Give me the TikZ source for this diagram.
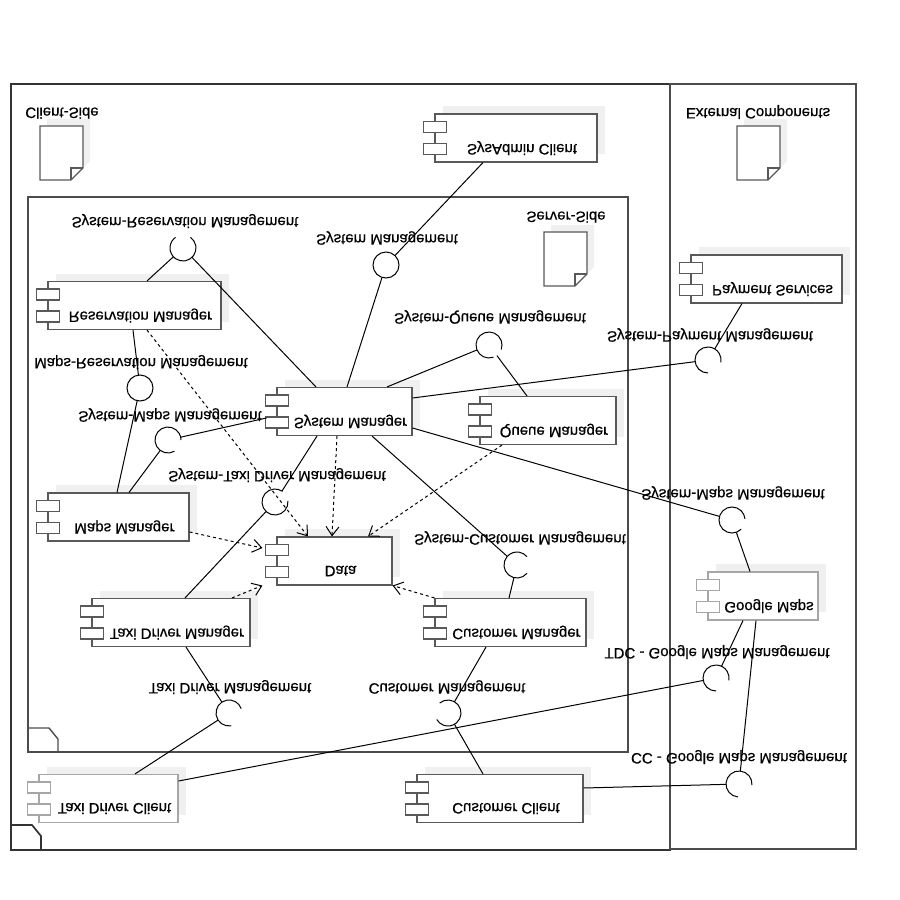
\documentclass[tikz,border=0pt]{standalone}
\usepackage{fontspec}
\setmainfont{Liberation Sans}[FakeBold=0.6]
\usetikzlibrary{calc,arrows.meta,shadows}

\tikzset{
  comp/.style={draw=black!65, fill=white, line width=1.1pt, minimum height=48pt, inner sep=0pt,
    general shadow={fill=black!6, shadow xshift=8pt, shadow yshift=8pt}},
  tab/.style={draw=black!65, fill=white, line width=1.1pt},
  lbl/.style={yscale=-1, font=\fontsize{15}{18}\selectfont, inner sep=0pt},
  iface/.style={circle, minimum size=26pt, inner sep=0pt},
  conn/.style={line width=1pt},
  dep/.style={conn, dashed, -{Straight Barb[length=9pt,width=13pt]}},
  frame/.style={draw=black!70, line width=1.4pt},
}
% component box with its two tabs and its name
\newcommand\comp[5][black!65]{%
  \node[comp, draw=#1, minimum width=#4] (#2) at (#3) {};
  \draw[tab, draw=#1] ($(#2.north west)+(-11,8)$) rectangle ++(23,11);
  \draw[tab, draw=#1] ($(#2.north west)+(-11,30)$) rectangle ++(23,11);
  \node[lbl] (#2-t) at ($(#2.center)+(6,10)$) {#5};}
% socket: node, gap centre, gap width
\newcommand\sock[3]{%
  \draw[conn] ($(#1.center)+({#2+#3/2}:13)$) arc[start angle={#2+#3/2}, end angle={#2+360-#3/2}, radius=13];}
% document icon, top left corner
\newcommand\docu[1]{%
  \draw[line width=1.1pt, draw=black!65, fill=white, general shadow={fill=black!6, shadow xshift=7pt, shadow yshift=7pt}]
    (#1) -- ++(43,0) -- ++(0,42) -- ++(-12,12) -- ++(-31,0) -- cycle;
  \draw[line width=1.1pt, draw=black!65] ($(#1)+(31,54)$) -- ++(0,-12) -- ++(12,0);}

\begin{document}
\begin{tikzpicture}[x=1pt, y=-1pt]
  %%%%% START %%%%%
  \useasboundingbox (0,0) rectangle (900,900);

  % frames
  \draw[frame, draw=black!80, line width=1.7pt] (11,84) rectangle (670,850);
  \draw[frame] (670,84) rectangle (856,849);
  \draw[frame] (28,197) rectangle (628,752);
  \draw[frame, draw=black!80, line width=1.7pt] (11,825) -- (32,825) -- (41,836) -- (41,850);
  \draw[frame] (28,728) -- (49,728) -- (58,739) -- (58,752);

  \node[lbl] (client-l) at (62,113) {Client-Side};
  \node[lbl] (server-l) at (566,217) {Server-Side};
  \node[lbl] (ext-l) at (758,112) {External Components};
  \docu{40,126}
  \docu{544,232}
  \docu{737,126}

  % components
  \comp{sysadmin}{516,138}{162}{SysAdmin Client}
  \comp{payment}{766.5,279}{151}{Payment Services}
  \comp{resmgr}{134.5,305.5}{173}{Reservation Manager}
  \comp{sysmgr}{344.5,411.5}{135}{System Manager}
  \comp{queuemgr}{548,420.5}{136}{Queue Manager}
  \comp{mapsmgr}{118.5,517}{141}{Maps Manager}
  \comp{data}{334.5,561}{115}{Data}
  \comp[black!35]{gmaps}{763,596}{110}{Google Maps}
  \comp{taximgr}{171,622.5}{158}{Taxi Driver Manager}
  \comp{custmgr}{510.5,622.5}{151}{Customer Manager}
  \comp[black!35]{taxicl}{108.5,798.5}{139}{Taxi Driver Client}
  \comp{custcl}{500,798.5}{166}{Customer Client}

  % interfaces
  \node[iface] (srm) at (183,248) {};
  \node[iface] (sm) at (386,265) {};
  \node[iface] (sqm) at (489,345) {};
  \node[iface] (spm) at (708,360) {};
  \node[iface] (mrm) at (140,388) {};
  \node[iface] (smm1) at (168,440) {};
  \node[iface] (stdm) at (275,502) {};
  \node[iface] (smm2) at (732,520) {};
  \node[iface] (scm) at (517,565) {};
  \node[iface] (tdcg) at (716,678) {};
  \node[iface] (tdm) at (229,713) {};
  \node[iface] (cm) at (448,713) {};
  \node[iface] (ccg) at (739,784) {};

  \draw[conn] (sm) circle (13);
  \draw[conn] (mrm) circle (13);
  \sock{srm}{270}{70}
  \sock{sqm}{45}{50}
  \sock{spm}{50}{80}
  \sock{smm1}{30}{60}
  \sock{stdm}{-30}{50}
  \sock{smm2}{20}{50}
  \sock{scm}{0}{80}
  \sock{tdcg}{50}{80}
  \sock{tdm}{30}{100}
  \sock{cm}{190}{80}
  \sock{ccg}{50}{90}

  \node[lbl] (srm-l) at (185,221) {System-Reservation Management};
  \node[lbl] (sm-l) at (387,238) {System Management};
  \node[lbl] (sqm-l) at (490,317) {System-Queue Management};
  \node[lbl] (spm-l) at (710,335) {System-Payment Management};
  \node[lbl] (mrm-l) at (141,362) {Maps-Reservation Management};
  \node[lbl] (smm1-l) at (170,415) {System-Maps Management};
  \node[lbl] (stdm-l) at (277,475) {System-Taxi Driver Management};
  \node[lbl] (scm-l) at (520,538) {System-Customer Management};
  \node[lbl] (smm2-l) at (733,493) {System-Maps Management};
  \node[lbl] (tdm-l) at (230,687) {Taxi Driver Management};
  \node[lbl] (cm-l) at (447,687) {Customer Management};
  \node[lbl] (tdcg-l) at (717,652) {TDC - Google Maps Management};
  \node[lbl] (ccg-l) at (739,757) {CC - Google Maps Management};

  % connectors
  \draw[conn] ([xshift=12.5pt]resmgr.north) -- (srm);
  \draw[conn] (srm) -- ([xshift=-28.5pt]sysmgr.north);
  \draw[conn] ([xshift=-33pt]sysadmin.south) -- (sm);
  \draw[conn] (sm) -- ([xshift=2.5pt]sysmgr.north);
  \draw[conn] ([xshift=42.5pt]sysmgr.north) -- (sqm);
  \draw[conn] (sqm) -- ([xshift=-21pt]queuemgr.north);
  \draw[conn] ([xshift=-24.5pt]payment.south) -- (spm);
  \draw[conn] ([yshift=13.5pt]sysmgr.east) -- (spm);
  \draw[conn] ([xshift=-1.5pt]resmgr.south) -- (mrm);
  \draw[conn] (mrm) -- ([xshift=-1.5pt]mapsmgr.north);
  \draw[conn] ([xshift=-10pt,yshift=-6.5pt]sysmgr.west) -- (smm1);
  \draw[conn] ([xshift=10.5pt]mapsmgr.north) -- (smm1);
  \draw[conn] ([xshift=-27.5pt]sysmgr.south) -- (stdm);
  \draw[conn] (stdm) -- ([xshift=14pt]taximgr.north);
  \draw[conn] ([xshift=27.5pt]sysmgr.south) -- (scm);
  \draw[conn] (scm) -- ([xshift=-1.5pt]custmgr.north);
  \draw[conn] ([yshift=-16.5pt]sysmgr.east) -- (smm2);
  \draw[conn] (smm2) -- ([xshift=-13pt]gmaps.north);
  \draw[conn] ([xshift=15pt]taximgr.south) -- (tdm);
  \draw[conn] (tdm) -- ([xshift=26.5pt]taxicl.north);
  \draw[conn] ([xshift=-24.5pt]custmgr.south) -- (cm);
  \draw[conn] (cm) -- ([xshift=-17pt]custcl.north);
  \draw[conn] ([yshift=17.5pt]taxicl.east) -- (tdcg);
  \draw[conn] ([xshift=-20pt]gmaps.south) -- (tdcg);
  \draw[conn] ([yshift=10.5pt]custcl.east) -- (ccg);
  \draw[conn] ([xshift=-7pt]gmaps.south) -- (ccg);

  % dependencies on Data
  \draw[dep] ([xshift=12.5pt]resmgr.south) -- ([xshift=-26.5pt]data.north);
  \draw[dep] ([xshift=-7.5pt]sysmgr.south) -- ([xshift=-2.5pt]data.north);
  \draw[dep] ([xshift=-46pt]queuemgr.south) -- ([xshift=33.5pt]data.north);
  \draw[dep] ([yshift=-15pt]mapsmgr.east) -- ([xshift=-14pt,yshift=13pt]data.west);
  \draw[dep] ([xshift=61pt]taximgr.north) -- ([xshift=-14pt]data.south west);
  \draw[dep] (custmgr.north west) -- (data.south east);

  %%%%% END %%%%%
\end{tikzpicture}
\end{document}
